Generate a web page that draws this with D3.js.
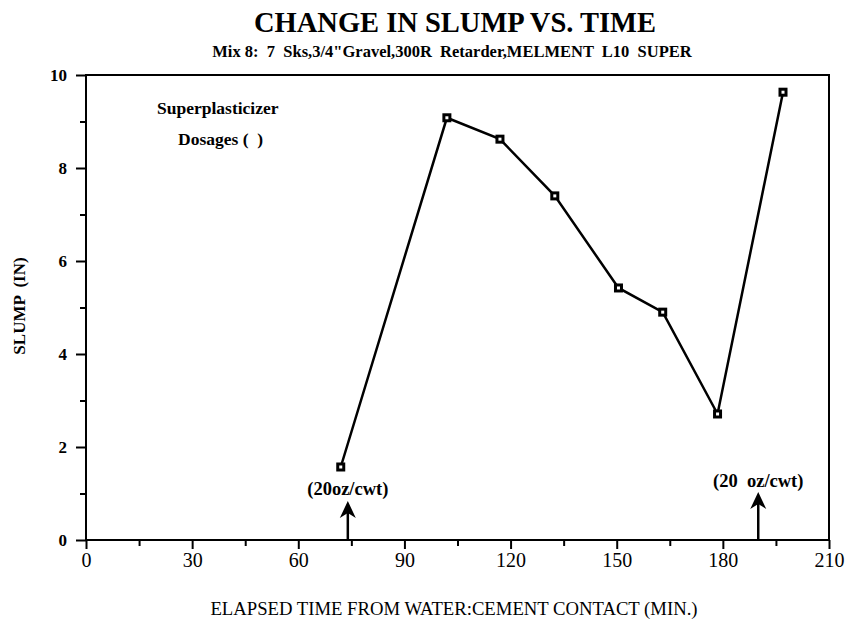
<!DOCTYPE html>
<html><head><meta charset="utf-8">
<script src="https://cdn.jsdelivr.net/npm/d3@7"></script>
<style>body{margin:0;background:#fff}</style>
</head><body>
<svg id="c" width="851" height="623"></svg>
<script>
const times = [72, 102, 117, 132.5, 150.5, 163, 178.5, 197];
const slump = [1.57, 9.08, 8.62, 7.4, 5.42, 4.9, 2.71, 9.63];
const xTicks = [0, 30, 60, 90, 120, 150, 180, 210];
const yTicks = [0, 2, 4, 6, 8, 10];
const doseTimes = [74, 190];
const doseLabels = ["(20oz/cwt)", "(20  oz/cwt)"];

const svg = d3.select("#c");
const font = "'Liberation Serif', 'Times New Roman', serif";
const L = 86, R = 829, T = 75, B = 540;
const x = d3.scaleLinear().domain([0, 210]).range([L, R]);
const y = d3.scaleLinear().domain([0, 10]).range([B, T]);

// frame
svg.append("rect").attr("x", L).attr("y", T).attr("width", R - L).attr("height", B - T)
  .attr("fill", "none").attr("stroke", "#000").attr("stroke-width", 2);

// x axis
const xa = svg.append("g").attr("transform", `translate(0,${B})`)
  .call(d3.axisBottom(x).tickValues(xTicks).tickSize(9).tickPadding(4).tickFormat(d3.format("d")));
xa.select(".domain").remove();
xa.selectAll("line").attr("stroke-width", 2);
xa.selectAll("text").attr("font-family", font).attr("font-size", 20).attr("font-weight", "normal")
  .attr("fill", "#000");
svg.append("g").attr("transform", `translate(0,${B})`)
  .call(d3.axisBottom(x).tickValues(d3.range(15, 210, 30)).tickSize(6).tickFormat(""))
  .call(g => g.select(".domain").remove())
  .selectAll("line").attr("stroke-width", 2);

// y axis
const ya = svg.append("g").attr("transform", `translate(${L},0)`)
  .call(d3.axisLeft(y).tickValues(yTicks).tickSize(10).tickPadding(9).tickFormat(d3.format("d")));
ya.select(".domain").remove();
ya.selectAll("line").attr("stroke-width", 2);
ya.selectAll("text").attr("font-family", font).attr("font-size", 17).attr("font-weight", "bold")
  .attr("fill", "#000");
svg.append("g").attr("transform", `translate(${L},0)`)
  .call(d3.axisLeft(y).tickValues(d3.range(1, 10, 2)).tickSize(6).tickFormat(""))
  .call(g => g.select(".domain").remove())
  .selectAll("line").attr("stroke-width", 2);

// line
const data = times.map((t, i) => ({ t, s: slump[i] }));
svg.append("path").datum(data)
  .attr("d", d3.line().x(d => x(d.t)).y(d => y(d.s)))
  .attr("fill", "none").attr("stroke", "#000").attr("stroke-width", 2.5);
svg.selectAll("rect.m").data(data).enter().append("rect").attr("class", "m")
  .attr("x", d => x(d.t) - 3).attr("y", d => y(d.s) - 3).attr("width", 6).attr("height", 6)
  .attr("fill", "#fff").attr("stroke", "#000").attr("stroke-width", 3);

// dose arrows
const labelY = [495, 487];
const arrowTop = [501, 492];
doseTimes.forEach((t, i) => {
  const px = x(t);
  svg.append("line").attr("x1", px).attr("x2", px).attr("y1", B - 1).attr("y2", arrowTop[i] + 10)
    .attr("stroke", "#000").attr("stroke-width", 2.5);
  svg.append("path").attr("d", `M${px},${arrowTop[i]} L${px - 8},${arrowTop[i] + 17} L${px},${arrowTop[i] + 12} L${px + 8},${arrowTop[i] + 17} Z`)
    .attr("fill", "#000");
  svg.append("text").attr("x", px).attr("y", labelY[i]).attr("text-anchor", "middle")
    .attr("font-family", font).attr("font-size", 18.5).attr("font-weight", "bold")
    .attr("xml:space", "preserve").style("white-space", "pre").text(doseLabels[i]);
});

// annotation
svg.append("text").attr("x", 157).attr("y", 114).attr("font-family", font).attr("font-size", 17.5)
  .attr("font-weight", "bold").text("Superplasticizer");
svg.append("text").attr("x", 178).attr("y", 145).attr("font-family", font).attr("font-size", 17.5)
  .attr("font-weight", "bold").attr("xml:space", "preserve").style("white-space", "pre")
  .text("Dosages (  )");

// titles
svg.append("text").attr("x", 455).attr("y", 32).attr("text-anchor", "middle")
  .attr("font-family", font).attr("font-size", 28.5).attr("font-weight", "bold")
  .text("CHANGE IN SLUMP VS. TIME");
svg.append("text").attr("x", 452).attr("y", 57).attr("text-anchor", "middle")
  .attr("font-family", font).attr("font-size", 16.5).attr("font-weight", "bold")
  .attr("xml:space", "preserve").style("white-space", "pre")
  .text("Mix 8:  7  Sks,3/4\"Gravel,300R  Retarder,MELMENT  L10  SUPER");
svg.append("text").attr("x", 454).attr("y", 615).attr("text-anchor", "middle")
  .attr("font-family", font).attr("font-size", 18.7)
  .text("ELAPSED TIME FROM WATER:CEMENT CONTACT (MIN.)");
svg.append("text").attr("transform", "translate(25,306) rotate(-90)").attr("text-anchor", "middle")
  .attr("font-family", font).attr("font-size", 17).attr("font-weight", "bold")
  .attr("xml:space", "preserve").style("white-space", "pre")
  .text("SLUMP  (IN)");
</script>
</body></html>
